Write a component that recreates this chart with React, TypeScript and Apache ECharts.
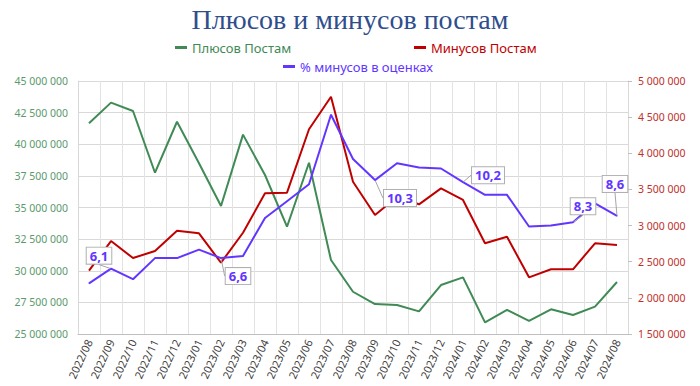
import React, { useEffect, useRef } from "react";
import * as echarts from "echarts";

const months = [
  "2022/08", "2022/09", "2022/10", "2022/11", "2022/12",
  "2023/01", "2023/02", "2023/03", "2023/04", "2023/05", "2023/06", "2023/07",
  "2023/08", "2023/09", "2023/10", "2023/11", "2023/12",
  "2024/01", "2024/02", "2024/03", "2024/04", "2024/05", "2024/06", "2024/07", "2024/08",
];

const plusPosts = [
  41660000, 43290000, 42630000, 37750000, 41780000, 38500000, 35120000, 40760000,
  37570000, 33480000, 38540000, 30850000, 28340000, 27370000, 27290000, 26790000,
  28870000, 29480000, 25920000, 26900000, 26030000, 26950000, 26500000, 27160000, 29110000,
];

const minusPosts = [
  2376000, 2786000, 2551000, 2648000, 2929000, 2893000, 2486000, 2901000,
  3446000, 3455000, 4332000, 4783000, 3607000, 3146000, 3395000, 3294000,
  3515000, 3354000, 2755000, 2846000, 2284000, 2395000, 2395000, 2755000, 2731000,
];

const minusPct = [
  5.4, 6.1, 5.6, 6.6, 6.6, 7.0, 6.6, 6.7, 8.5, 9.3, 10.1, 13.4, 11.3,
  10.3, 11.1, 10.9, 10.85, 10.2, 9.6, 9.6, 8.1, 8.15, 8.3, 9.2, 8.6,
];

const labeledIdx = [1, 6, 13, 17, 22, 24];
const labelOffsets: Record<number, [number, number]> = {
  1: [-12, -13],
  6: [17, 18],
  13: [25, 18],
  17: [25, -7],
  22: [10, -16],
  24: [-2, -32],
};

const GREEN = "#3F8A55";
const RED = "#C00000";
const PURPLE = "#6236FF";
const FONT = "Noto Sans";

const fmt = (v: number) => String(v).replace(/\B(?=(\d{3})+(?!\d))/g, " ");

export default function App() {
  const ref = useRef<HTMLDivElement>(null);
  useEffect(() => {
    if (!ref.current) return;
    const chart = echarts.init(ref.current, null, { renderer: "svg" });
    const pctData = minusPct.map((v, i) =>
      labeledIdx.includes(i) ? { value: v, label: { show: true } } : { value: v }
    );
    chart.setOption({
      animation: false,
      backgroundColor: "#ffffff",
      textStyle: { fontFamily: FONT },
      title: {
        text: "Плюсов и минусов постам",
        left: "center",
        top: 0,
        textStyle: {
          fontFamily: "Liberation Serif",
          fontSize: 28,
          fontWeight: "normal",
          color: "#2F4E8C",
        },
      },
      legend: [
        {
          data: ["Плюсов Постам"],
          left: 170,
          top: 36,
          icon: "rect",
          itemWidth: 12,
          itemHeight: 3,
          itemGap: 9,
          textStyle: { color: GREEN, fontSize: 13, fontFamily: FONT },
        },
        {
          data: ["Минусов Постам"],
          left: 409,
          top: 36,
          icon: "rect",
          itemWidth: 12,
          itemHeight: 3,
          textStyle: { color: RED, fontSize: 13, fontFamily: FONT },
        },
        {
          data: ["% минусов в оценках"],
          left: 278,
          top: 55,
          icon: "rect",
          itemWidth: 12,
          itemHeight: 3,
          textStyle: { color: PURPLE, fontSize: 13, fontFamily: FONT },
        },
      ],
      grid: { left: 78, right: 72, top: 81, bottom: 52, containLabel: false },
      xAxis: {
        type: "category",
        data: months,
        boundaryGap: true,
        axisLine: { show: true, lineStyle: { color: "#bfbfbf" } },
        axisTick: { show: false },
        splitLine: { show: true, lineStyle: { color: "#e3e3e3", width: 1 } },
        axisLabel: {
          interval: 0,
          rotate: 65,
          fontSize: 11,
          color: "#404040",
          margin: 6,
          fontFamily: FONT,
        },
      },
      yAxis: [
        {
          type: "value",
          position: "left",
          min: 25000000,
          max: 45000000,
          interval: 2500000,
          axisLine: { show: true, lineStyle: { color: "#d9d9d9" } },
          axisTick: { show: false },
          splitLine: { show: true, lineStyle: { color: "#d9d9d9", width: 1 } },
          axisLabel: { color: "#5A9A6C", fontSize: 10.5, margin: 10, formatter: fmt, fontFamily: FONT },
        },
        {
          type: "value",
          position: "right",
          min: 1500000,
          max: 5000000,
          interval: 500000,
          axisLine: { show: true, lineStyle: { color: "#d9d9d9" } },
          axisTick: { show: true, length: 4, lineStyle: { color: "#bfbfbf" } },
          splitLine: { show: false },
          axisLabel: { color: "#C0302B", fontSize: 10.5, margin: 10, formatter: fmt, fontFamily: FONT },
        },
        {
          type: "value",
          show: false,
          min: 3,
          max: 15,
          splitLine: { show: false },
        },
      ],
      series: [
        {
          name: "Плюсов Постам",
          type: "line",
          yAxisIndex: 0,
          data: plusPosts,
          showSymbol: false,
          symbol: "none",
          color: GREEN,
          lineStyle: { color: GREEN, width: 2 },
        },
        {
          name: "Минусов Постам",
          type: "line",
          yAxisIndex: 1,
          data: minusPosts,
          showSymbol: false,
          symbol: "none",
          color: RED,
          lineStyle: { color: RED, width: 2 },
        },
        {
          name: "% минусов в оценках",
          type: "line",
          yAxisIndex: 2,
          data: pctData,
          showSymbol: true,
          symbol: "circle",
          symbolSize: 1,
          color: PURPLE,
          itemStyle: { color: PURPLE },
          lineStyle: { color: PURPLE, width: 2 },
          label: {
            show: false,
            position: "inside",
            formatter: (p: any) => String(p.value).replace(".", ","),
            color: PURPLE,
            fontWeight: "bold",
            fontSize: 13,
            fontFamily: FONT,
            backgroundColor: "#ffffff",
            borderColor: "#b0b0b0",
            borderWidth: 1,
            padding: [2, 3, 1, 3],
          },
          labelLine: { show: true, lineStyle: { color: "#a6a6a6", width: 1 } },
          labelLayout: (p: any) => {
            const o = labelOffsets[p.dataIndex];
            return o ? { dx: o[0], dy: o[1] } : {};
          },
        },
      ],
    });
    return () => chart.dispose();
  }, []);
  return (
    <div
      ref={ref}
      style={{ position: "fixed", left: 0, top: 0, width: 700, height: 386 }}
    />
  );
}
